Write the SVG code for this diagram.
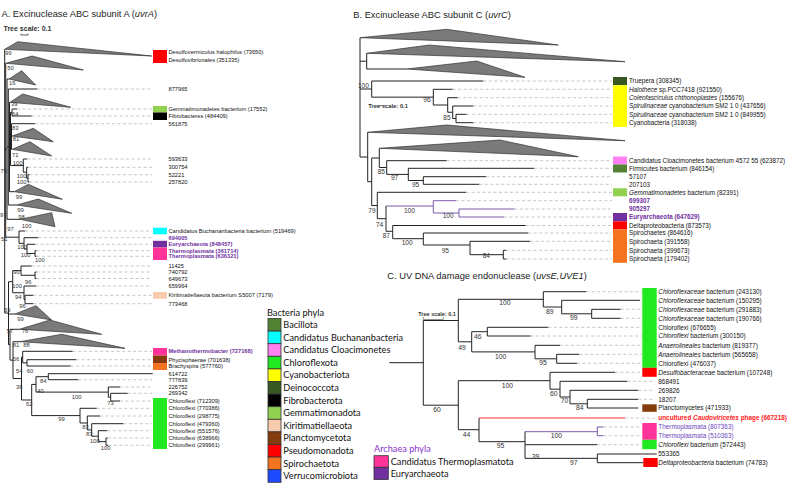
<svg xmlns="http://www.w3.org/2000/svg" width="788" height="484" viewBox="0 0 788 484">
<style>
.t{stroke:#222;stroke-width:1;fill:none}
.tp{stroke:#7a5aa8;stroke-width:1;fill:none}
.tr{stroke:#ff3030;stroke-width:1;fill:none}
.d{stroke:#b8b8b8;stroke-width:.8;stroke-dasharray:3 2.5;fill:none}
.tri{fill:#7a7a7a;stroke:#333;stroke-width:.7}
.ti{font-family:"Liberation Sans",Arial,sans-serif;font-size:9.3px;fill:#222}
.sc{font-family:"Liberation Sans",Arial,sans-serif;font-weight:bold;fill:#333}
.ba{font-family:"Liberation Sans",Arial,sans-serif;font-size:5.8px;fill:#333}
.bb{font-family:"Liberation Sans",Arial,sans-serif;font-size:6.5px;fill:#333}
.bc{font-family:"Liberation Sans",Arial,sans-serif;font-size:6.8px;fill:#333}
.la{font-family:"Liberation Sans",Arial,sans-serif;font-size:5.7px;fill:#111}
.lb{font-family:"Liberation Sans",Arial,sans-serif;font-size:6.3px;fill:#111}
.lc{font-family:"Liberation Sans",Arial,sans-serif;font-size:6.4px;fill:#111}
.pu{fill:#7030a0;font-weight:bold}
.pc{fill:#6b3fc0}
.rd{fill:#ff2020;font-weight:bold}
.lg{font-family:Lato,"Open Sans",sans-serif;font-size:9.2px;fill:#111}
.lbx{stroke:#333;stroke-width:.8}
</style>

<!-- Titles -->
<text class="ti" x="1.5" y="16.5">A. Excinuclease ABC subunit A (<tspan font-style="italic">uvrA</tspan>)</text>
<text class="ti" x="353.3" y="18.3">B. Excinuclease ABC subunit C (<tspan font-style="italic">uvrC</tspan>)</text>
<text class="ti" x="387.3" y="278.5">C. UV DNA damage endonuclease (<tspan font-style="italic">uvsE,UVE1</tspan>)</text>

<!-- Tree scales -->
<g id="scaleA"><text class="sc" x="3.5" y="31" font-size="7">Tree scale: 0.1</text><path d="M21 35H28M21 33.6V35M28 33.6V35" stroke="#333" stroke-width=".8" fill="none"/></g>
<g id="scaleB"><text class="sc" x="368.3" y="108" font-size="5.8">Tree scale: 0.1</text><path d="M377 105.5H386" stroke="#666" stroke-width=".7"/></g>
<g id="scaleC"><text class="sc" x="418.3" y="316" font-size="5.5">Tree scale: 0.1</text><path d="M423.3 317V319.5H443.3V317" stroke="#777" stroke-width=".8" fill="none"/></g>

<!-- Connectors -->
<g id="connectors">
<path class="t" d="M4.7 49.3V313M4.7 150H5.7M5.7 63.3V237.2M5.7 237.2H19M5.7 149H7M7 79V219.3M7 79H9M7 219.3H20M7 147H8.3M8.3 89V205M8.3 89H37.3M8.3 205H16.7M8.3 147H9.5M9.5 102.3V191.7M9.5 102.3H10M9.5 191.7H14.3M9.5 139H10.5M10.5 112.5V165.6M10.5 112.5H12M10.5 165.6H23.3M10.5 136H11.5M11.5 123.7V149.3M11.5 123.7H35M11.5 136H12.3M11.5 149.3H12.3M12 109V116M12 109H17M12 116H31.7M23.3 159V172.2M23.3 159H27M23.3 172.2H26.7M26.7 167.3V178.35M26.7 167.3H28M26.7 178.35H28M28 174.7V182M28 174.7H29.5M28 182H29.5M19 231V243.35M19 231H25M19 243.35H24M24 237.7V249M24 237.7H38.3M24 249H27M27 244.3V253.5M27 244.3H35M27 253.5H35M35 250.7V256.3M35 250.7H36.5M35 256.3H36.5M4.7 313H8.5M8.5 281.7V344.7M8.5 281.7H12.7M8.5 314H15M8.5 344.7H10M12.7 270.6V292.75M12.7 270.6H21M12.7 292.75H24M21 266V275.25M21 266H31.7M21 275.25H35M35 272V278.5M35 272H36.5M35 278.5H36.5M24 286V299.5M24 286H36M24 299.5H25M25 295.3V303.7M25 295.3H33.3M25 303.7H33.3M10 329.3V360.1M10 329.3H19.3M10 360.1H13M13 341.7V378.5M13 341.7H20M13 378.5H21.5M21.5 357.1V400M21.5 357.1H22.7M21.5 400H31.7M22.7 351.3V362.85M22.7 351.3H72.7M22.7 362.85H27M27 359.7V366M27 359.7H76M27 366H70.7M31.7 384.4V415.6M31.7 384.4H36M31.7 415.6H80M36 376.7V392.1M36 376.7H48.3M36 392.1H108.3M48.3 373.7V379.7M48.3 373.7H152.7M48.3 379.7H78.3M108.3 387V397.15M108.3 387H120M108.3 397.15H110.7M110.7 393.3V401M110.7 393.3H127.7M110.7 401H120M80 408.3V422.98M80 408.3H96.7M80 422.98H87.3M87.3 416V429.95M87.3 416H100M87.3 429.95H91.7M91.7 423.7V436.2M91.7 423.7H123.3M91.7 436.2H98.3M98.3 430.7V441.65M98.3 430.7H107.3M98.3 441.65H106M106 438V445.3M106 438H107.7M106 445.3H108.3"/>
<path class="d" d="M37.3 89H152M17 109H152M31.7 116H152M35 123.7H152M27 159H152M28 167.3H152M29.5 174.7H152M29.5 182H152M25 231H152M38.3 237.7H152M35 244.3H152M36.5 250.7H152M36.5 256.3H152M31.7 266H152M36.5 272H152M36.5 278.5H152M36 286H152M33.3 295.3H152M33.3 303.7H152M72.7 351.3H152M76 359.7H152M70.7 366H152M78.3 379.7H152M120 387H152M127.7 393.3H152M120 401H152M96.7 408.3H152M100 416H152M123.3 423.7H152M107.3 430.7H152M107.7 438H152M108.3 445.3H152"/>
<path class="t" d="M360 37.7V157M360 61.2H366.7M366.7 53.3V69M366.7 69H406.7M360 89H371.7M371.7 81V97.15M371.7 81H483.3M371.7 97.15H433.3M433.3 89.3V105M433.3 89.3H452.7M433.3 105H447.7M447.7 97.7V112.25M447.7 97.7H457.7M447.7 112.25H452.7M452.7 106V118.5M452.7 106H473.3M452.7 118.5H456M456 114.3V122.7M456 114.3H466.7M456 122.7H473.3M360 157H367.7M367.7 132.3V181.7M367.7 181.7H371.7M371.7 158V205.5M371.7 158H379.3M379.3 148.3V167.5M379.3 167.5H386.7M386.7 160.7V174.4M386.7 160.7H446.7M386.7 174.4H408.3M408.3 168.3V180.5M408.3 168.3H534M408.3 180.5H423.3M423.3 176.7V184.3M423.3 176.7H486M423.3 184.3H479.3M371.7 205.5H377.3M377.3 192.3V218.7M377.3 192.3H466M377.3 218.7H386M386 206V231.3M386 231.3H392.7M392.7 225.5V238.7M392.7 225.5H525.7M392.7 238.7H423.3M423.3 233V245M423.3 233H528.3M423.3 245H470M470 241.3V254.7M470 241.3H530M470 254.7H503.3M503.3 250.3V259M503.3 250.3H506M503.3 259H506"/>
<path class="tp" d="M386 206H433.3M433.3 200.7V213M433.3 200.7H456M433.3 213H459M459 209V217M459 209H514.3M459 217H504"/>
<path class="d" d="M483.3 81H612M452.7 89.3H612M457.7 97.7H612M473.3 106H612M466.7 114.3H612M473.3 122.7H612M446.7 160.7H612M534 168.3H612M486 176.7H612M479.3 184.3H612M466 192.3H612M456 200.7H612M514.3 209H612M504 217H612M525.7 225.5H612M528.3 233H612M530 241.3H612M506 250.3H612M506 259H612"/>
<path class="t" d="M389.3 362.7H423.3M423.3 320.5V405.2M423.3 320.5H458.3M458.3 299.3V341.8M458.3 299.3H543.3M543.3 291.7V307M543.3 291.7H586M543.3 307H561.7M561.7 300.3V313.8M561.7 300.3H640M561.7 313.8H591.7M591.7 309.3V318.3M591.7 309.3H620.7M591.7 318.3H620.7M458.3 341.8H471.7M471.7 331.7V351.9M471.7 331.7H487.3M487.3 327.3V336M487.3 327.3H548.3M487.3 336H530.7M471.7 351.9H535M535 345.3V358.8M535 345.3H560M535 358.8H556.7M556.7 354.3V363.3M556.7 354.3H579.3M556.7 363.3H577M423.3 405.2H458.3M458.3 380.7V429.7M458.3 380.7H550M550 372.3V389.2M550 372.3H615M550 389.2H560M560 381.3V397M560 381.3H627.3M560 397H570M570 390.3V403.8M570 390.3H638.3M570 403.8H587.3M587.3 399.3V408M587.3 399.3H638.3M587.3 408H638.3M458.3 429.7H479M479 418V441.7M479 441.7H525M525 431.7V458.35M525 444.7H597.3M525 458.35H597.3M597.3 454V462.7M597.3 454H656.7M597.3 462.7H643.3"/>
<path class="tr" d="M479 418H625"/>
<path class="tp" d="M525 431.7H597.3M597.3 427V435.7M597.3 427H603.3M597.3 435.7H603.3"/>
<path class="d" d="M586 291.7H642M620.7 309.3H642M620.7 318.3H642M548.3 327.3H642M530.7 336H642M560 345.3H642M579.3 354.3H642M577 363.3H642M615 372.3H642M627.3 381.3H655M638.3 390.3H655M638.3 399.3H655M625 418H655M603.3 427H642M603.3 435.7H642M597.3 444.7H642"/>
</g>

<!-- Collapsed clades -->
<g id="clades">
<polygon class="tri" points="4.7,49.3 17.7,41.7 151.7,56"/>
<polygon class="tri" points="5.7,63.3 32.3,56 83.3,70"/>
<polygon class="tri" points="9,79 21.7,70.7 35.7,85"/>
<polygon class="tri" points="10,102.3 22.7,94 70.7,107.3"/>
<polygon class="tri" points="12.3,136 33.3,128.3 53.3,141.7"/>
<polygon class="tri" points="12.3,149.3 30,141.7 51.7,156"/>
<polygon class="tri" points="14.3,191.7 28.3,184.3 62.3,199.3"/>
<polygon class="tri" points="16.7,205 38.3,199 71.7,213.3"/>
<polygon class="tri" points="20,219.3 51.7,212.7 55,226.7"/>
<polygon class="tri" points="15,314 36,305.7 51.7,320"/>
<polygon class="tri" points="19.3,329.3 50,320 101.7,334.3"/>
<polygon class="tri" points="20,341.7 61.7,334.3 125,348.3"/>
<polygon class="tri" points="360,37.7 446.7,29.3 558.3,45"/>
<polygon class="tri" points="366.7,53.3 429.3,45 625,61.7"/>
<polygon class="tri" points="406.7,69 476.7,61 525,77.3"/>
<polygon class="tri" points="367.7,132.3 446.7,125 625,140.7"/>
<polygon class="tri" points="379.3,148.3 500,140 578.3,156.7"/>
</g>

<!-- Support values -->
<g id="supportA" class="ba">
<text x="5" y="54.5">99</text><text x="7.3" y="70">50</text><text x="9" y="84.5">16</text><text x="11" y="106">39</text><text x="12" y="116">64</text><text x="12" y="129.5">83</text><text x="12.7" y="140.5">81</text><text x="12" y="156.5">71</text><text x="12.7" y="165">100</text><text x="0.5" y="172.5">79</text><text x="16.7" y="177.5">100</text><text x="16.7" y="184">100</text><text x="15.7" y="198.5">99</text><text x="17.3" y="211.5">99</text><text x="0" y="216.8">97</text><text x="18.3" y="218.5">98</text><text x="21.7" y="227.5">100</text><text x="7.3" y="230.8">97</text><text x="1" y="240.8">51</text><text x="17.3" y="249.2">100</text><text x="20.7" y="256.8">100</text><text x="35" y="261.5">100</text><text x="13.3" y="274.2">90</text><text x="25" y="283.5">96</text><text x="12.3" y="288.2">100</text><text x="15" y="299.2">94</text><text x="19.3" y="308.2">96</text><text x="4" y="311.5">59</text><text x="17.3" y="320.8">99</text><text x="6.7" y="333.2">57</text><text x="21.7" y="333.2">76</text><text x="12.7" y="346.8">81</text><text x="23.3" y="346.8">88</text><text x="12.7" y="360.8">56</text><text x="16" y="372.5">54</text><text x="26.7" y="372.5">60</text><text x="40" y="383.2">84</text><text x="16" y="388.5">36</text><text x="37.3" y="392.5">40</text><text x="71.7" y="398.5">100</text><text x="26" y="405.8">62</text><text x="107.3" y="405.2">73</text><text x="58.3" y="420.8">99</text><text x="82.3" y="429.2">83</text><text x="86" y="435.8">83</text><text x="90" y="442.5">100</text><text x="100.7" y="449.8">100</text>
</g>
<g id="supportB" class="bb">
<text x="358" y="88">100</text><text x="423.3" y="102">96</text><text x="443.3" y="119.5">85</text><text x="377.7" y="173.5">85</text><text x="391" y="180">97</text><text x="412" y="186.7">95</text><text x="368.3" y="212.5">79</text><text x="404" y="212.5">100</text><text x="442.7" y="218">100</text><text x="376" y="226.5">74</text><text x="382.7" y="238.2">87</text><text x="401.7" y="244.8">100</text><text x="441.7" y="252.5">95</text><text x="482.7" y="258.2">84</text>
</g>
<g id="supportC" class="bc">
<text x="499.3" y="305">100</text><text x="546" y="313.5">89</text><text x="570" y="319.8">99</text><text x="474" y="338.5">46</text><text x="458.3" y="349.8">49</text><text x="495" y="359.2">100</text><text x="539.3" y="365.2">95</text><text x="501.7" y="387.5">100</text><text x="433.3" y="411.5">60</text><text x="550" y="395.8">60</text><text x="560.7" y="403.2">70</text><text x="576" y="410.2">84</text><text x="462.7" y="436.5">44</text><text x="496.7" y="448.2">95</text><text x="550.7" y="437.5">100</text><text x="531.7" y="458.5">39</text><text x="570" y="465.2">97</text>
</g>

<!-- Panel A leaves -->
<g id="leavesA" class="la">
<g id="a-desulfo"><rect x="153" y="50" width="14" height="13" fill="#ff0000"/><text x="168.5" y="53.7">Desulfovermiculus halophilus (73650)</text><text x="168.5" y="62">Desulfovibrionales (351335)</text></g>
<g id="a-877965"><text x="168.5" y="91">877965</text></g>
<g id="a-gemm"><rect x="153" y="106" width="14" height="6.5" fill="#92d050"/><text x="168.5" y="111">Gemmatimonadetes bacterium (17552)</text></g>
<g id="a-fibro"><rect x="153" y="112.5" width="14" height="7.5" fill="#000"/><text x="168.5" y="118">Fibrobacteres (484409)</text></g>
<g id="a-561875"><text x="168.5" y="125.7">561875</text></g>
<g id="a-nums1"><text x="168.5" y="161">593633</text><text x="168.5" y="169.3">300754</text><text x="168.5" y="176.7">52221</text><text x="168.5" y="184">257820</text></g>
<g id="a-buch"><rect x="153" y="227.7" width="14" height="6.6" fill="#00ffff"/><text x="168.5" y="233">Candidatus Buchananbacteria bacterium (519469)</text></g>
<g id="a-694005"><text class="pu" x="168.5" y="239.7">694005</text></g>
<g id="a-eury"><rect x="153" y="240.8" width="14" height="6.7" fill="#7030a0"/><text class="pu" x="168.5" y="246.3">Euryarchaeota (848457)</text></g>
<g id="a-thermo"><rect x="153" y="247.5" width="14" height="12.5" fill="#ff3399"/><text class="pu" x="168.5" y="252.7">Thermoplasmata (361714)</text><text class="pu" x="168.5" y="258.3">Thermoplasmata (636321)</text></g>
<g id="a-nums2"><text x="168.5" y="268">11425</text><text x="168.5" y="274">740792</text><text x="168.5" y="280.5">649673</text><text x="168.5" y="288">659964</text></g>
<g id="a-kiri"><rect x="153" y="292" width="14" height="6.7" fill="#f8cbad"/><text x="168.5" y="297.3">Kiritimatiellaeota bacterium S5007 (7179)</text></g>
<g id="a-773468"><text x="168.5" y="305.7">773468</text></g>
<g id="a-methano"><rect x="153" y="348" width="14" height="7.5" fill="#ff3399"/><text class="pu" x="168.5" y="353.3">Methanothermobacter (727168)</text></g>
<g id="a-phyc"><rect x="153" y="355.5" width="14" height="7.5" fill="#843c0c"/><text x="168.5" y="361.7">Phycisphaerae (701638)</text></g>
<g id="a-brachy"><rect x="153" y="363" width="14" height="7" fill="#f47320"/><text x="168.5" y="368">Brachyspira (577760)</text></g>
<g id="a-nums3"><text x="168.5" y="375.7">614722</text><text x="168.5" y="381.7">777839</text><text x="168.5" y="389">226752</text><text x="168.5" y="395.3">269342</text></g>
<g id="a-chloro"><rect x="153" y="398" width="14" height="51" fill="#22e822"/><text x="168.5" y="403">Chloroflexi (712309)</text><text x="168.5" y="410.3">Chloroflexi (770386)</text><text x="168.5" y="418">Chloroflexi (298775)</text><text x="168.5" y="425.7">Chloroflexi (479360)</text><text x="168.5" y="432.7">Chloroflexi (551576)</text><text x="168.5" y="440">Chloroflexi (638966)</text><text x="168.5" y="447.3">Chloroflexi (299961)</text></g>
</g>

<!-- Panel B leaves -->
<g id="leavesB" class="lb">
<g id="b-truepera"><rect x="613" y="77" width="14" height="8.2" fill="#385723"/><text x="629" y="83.2">Truepera (308345)</text></g>
<g id="b-cyano"><rect x="613" y="85.2" width="14" height="41.7" fill="#ffff00"/><text x="629" y="91.5"><tspan font-style="italic">Halothece</tspan> sp.PCC7418 (921550)</text><text x="629" y="99.9"><tspan font-style="italic">Coleofasciculus chthonoplastes</tspan> (155676)</text><text x="629" y="108.2"><tspan font-style="italic">Spirulinaceae</tspan> cyanobacterium SM2 1 0 (437656)</text><text x="629" y="116.5"><tspan font-style="italic">Spirulinaceae</tspan> cyanobacterium SM2 1 0 (849955)</text><text x="629" y="124.9">Cyanobacteria (318038)</text></g>
<g id="b-cloac"><rect x="613" y="156.5" width="14" height="8" fill="#ff80f0"/><text x="629" y="162.9">Candidatus Cloacimonetes bacterium 4572 55 (623872)</text></g>
<g id="b-firm"><rect x="613" y="164.5" width="14" height="8" fill="#548235"/><text x="629" y="170.5">Firmicutes bacterium (846154)</text></g>
<g id="b-nums"><text x="629" y="178.9">57107</text><text x="629" y="186.5">207103</text></g>
<g id="b-gemm"><rect x="613" y="188.3" width="14" height="8" fill="#92d050"/><text x="629" y="194.5"><tspan font-style="italic">Gemmatimonadetes</tspan> bacterium (82391)</text></g>
<g id="b-purple"><text class="pu" x="629" y="202.9">699307</text><text class="pu" x="629" y="211.2">905297</text></g>
<g id="b-eury"><rect x="613" y="213" width="14" height="8.3" fill="#7030a0"/><text class="pu" x="629" y="219.2">Euryarchaeota (647629)</text></g>
<g id="b-delta"><rect x="613" y="221.3" width="14" height="8" fill="#ff0000"/><text x="629" y="227.7">Deltaproteobacteria (873573)</text></g>
<g id="b-spiro"><rect x="613" y="229.3" width="14" height="33.5" fill="#f47320"/><text x="629" y="235.2">Spirochaetes (864616)</text><text x="629" y="243.5">Spirochaeta (391558)</text><text x="629" y="252.5">Spirochaeta (399673)</text><text x="629" y="261.2">Spirochaeta (179402)</text></g>
</g>

<!-- Panel C leaves -->
<g id="leavesC" class="lc">
<g id="c-chloro"><rect x="642.3" y="288" width="14.4" height="79.8" fill="#22e822"/><text x="658.3" y="294"><tspan font-style="italic">Chloroflexaceae</tspan> bacterium (243130)</text><text x="658.3" y="302.6"><tspan font-style="italic">Chloroflexaceae</tspan> bacterium (150295)</text><text x="658.3" y="311.6"><tspan font-style="italic">Chloroflexaceae</tspan> bacterium (291883)</text><text x="658.3" y="320.6"><tspan font-style="italic">Chloroflexaceae</tspan> bacterium (190766)</text><text x="658.3" y="329.6">Chloroflexi (676655)</text><text x="658.3" y="338.3"><tspan font-style="italic">Chloroflexi</tspan> bacterium (300150)</text><text x="658.3" y="347.6"><tspan font-style="italic">Anaerolineales</tspan> bacterium (819377)</text><text x="658.3" y="356.6"><tspan font-style="italic">Anaerolineales</tspan> bacterium (565658)</text><text x="658.3" y="365.6">Chloroflexi (476037)</text></g>
<g id="c-desulfo"><rect x="642.3" y="367.8" width="14.4" height="9" fill="#ff0000"/><text x="658.3" y="374.6"><tspan font-style="italic">Desulfobacteraceae</tspan> bacterium (107248)</text></g>
<g id="c-nums"><text x="658.3" y="383.6">868491</text><text x="658.3" y="392.6">269826</text><text x="658.3" y="401.6">18207</text></g>
<g id="c-plancto"><rect x="642.3" y="404.3" width="14.4" height="7.5" fill="#843c0c"/><text x="658.3" y="410.3">Planctomycetes (471933)</text></g>
<g id="c-phage"><text class="rd" x="658.3" y="420.3">uncultured <tspan font-style="italic">Caudoviricetes</tspan> phage (667218)</text></g>
<g id="c-thermo"><rect x="642.3" y="423" width="14.4" height="16.8" fill="#ff3399"/><text class="pc" x="658.3" y="429.3">Thermoplasmata (807363)</text><text class="pc" x="658.3" y="438">Thermoplasmata (510363)</text></g>
<g id="c-chl2"><rect x="642.3" y="439.8" width="14.4" height="9.4" fill="#22e822"/><text x="658.3" y="447"><tspan font-style="italic">Chloroflexi</tspan> bacterium (572443)</text></g>
<g id="c-553365"><text x="658.3" y="456.3">553365</text></g>
<g id="c-delta"><rect x="643.3" y="458" width="14.4" height="9" fill="#ff0000"/><text x="658.3" y="465"><tspan font-style="italic">Deltaproteobacteria</tspan> bacterium (74783)</text></g>
</g>

<!-- Legend -->
<g id="legend-bacteria" class="lg">
<text x="267" y="315.5">Bacteria phyla</text>
<rect class="lbx" x="268" y="318.5" width="13" height="12.6" fill="#548235"/><text x="283.3" y="328">Bacillota</text>
<rect class="lbx" x="268" y="331.1" width="13" height="12.6" fill="#00ffff"/><text x="283.3" y="340.6">Candidatus Buchananbacteria</text>
<rect class="lbx" x="268" y="343.7" width="13" height="12.6" fill="#ff80f0"/><text x="283.3" y="353.2">Candidatus Cloacimonetes</text>
<rect class="lbx" x="268" y="356.3" width="13" height="12.6" fill="#22e822"/><text x="283.3" y="365.8">Chloroflexota</text>
<rect class="lbx" x="268" y="368.9" width="13" height="12.6" fill="#ffff00"/><text x="283.3" y="378.4">Cyanobacteriota</text>
<rect class="lbx" x="268" y="381.5" width="13" height="12.6" fill="#385723"/><text x="283.3" y="391">Deinococcota</text>
<rect class="lbx" x="268" y="394.1" width="13" height="12.6" fill="#000000"/><text x="283.3" y="403.6">Fibrobacterota</text>
<rect class="lbx" x="268" y="406.7" width="13" height="12.6" fill="#92d050"/><text x="283.3" y="416.2">Gemmatimonadota</text>
<rect class="lbx" x="268" y="419.3" width="13" height="12.6" fill="#f8cbad"/><text x="283.3" y="428.8">Kiritimatiellaeota</text>
<rect class="lbx" x="268" y="431.9" width="13" height="12.6" fill="#843c0c"/><text x="283.3" y="441.4">Planctomycetota</text>
<rect class="lbx" x="268" y="444.5" width="13" height="12.6" fill="#ff0000"/><text x="283.3" y="454">Pseudomonadota</text>
<rect class="lbx" x="268" y="457.1" width="13" height="12.6" fill="#f47320"/><text x="283.3" y="466.6">Spirochaetota</text>
<rect class="lbx" x="268" y="469.7" width="13" height="12.6" fill="#1e4bff"/><text x="283.3" y="479.2">Verrucomicrobiota</text>
</g>
<g id="legend-archaea" class="lg">
<text x="374" y="451.5" fill="#8a35d0">Archaea phyla</text>
<rect class="lbx" x="374" y="455.7" width="14.3" height="11.6" fill="#ff3399"/><text x="390.7" y="465">Candidatus Thermoplasmatota</text>
<rect class="lbx" x="374" y="467.3" width="14.3" height="12.2" fill="#7030a0"/><text x="390.7" y="477.3">Euryarchaeota</text>
</g>
</svg>
